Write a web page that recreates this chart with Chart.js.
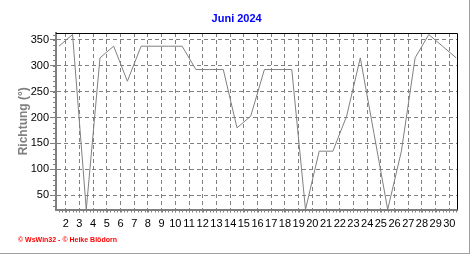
<!DOCTYPE html>
<html>
<head>
<meta charset="utf-8">
<title>Juni 2024</title>
<script src="https://cdn.jsdelivr.net/npm/chart.js@4.4.0/dist/chart.umd.min.js"></script>
<style>
  body { margin: 0; background: #fff; }
  #wrap { position: relative; width: 472px; height: 255px; overflow: hidden; }
  #footer { position: absolute; left: 18px; top: 236px; font: bold 7px Arial, "Liberation Sans", sans-serif; color: #ff0000; white-space: nowrap; }
  .edgeV { position: absolute; left: 469px; top: 0; width: 1px; height: 254px; background: #a0a0a0; }
  .edgeH { position: absolute; left: 0; top: 253px; width: 470px; height: 1px; background: #a0a0a0; }
</style>
</head>
<body>
<div id="wrap">
  <canvas id="chart" width="472" height="255"></canvas>
  <div id="footer">© WsWin32 - © Heike Blödorn</div>
  <div class="edgeV"></div>
  <div class="edgeH"></div>
</div>
<script>
// Windrichtung, Tageswerte Juni 2024
const days = [1, 2, 3, 4, 5, 6, 7, 8, 9, 10, 11, 12, 13, 14, 15,
              16, 17, 18, 19, 20, 21, 22, 23, 24, 25, 26, 27, 28, 29, 30];
const richtung = [337.5, 360, 22.5, 315, 337.5, 270, 337.5, 337.5, 337.5, 337.5,
                  292.5, 292.5, 292.5, 180, 202.5, 292.5, 292.5, 292.5, 22.5, 135,
                  135, 202.5, 315, 169, 22.5, 135, 315, 360, 337.5, 315];
const xTicks = [2, 3, 4, 5, 6, 7, 8, 9, 10, 11, 12, 13, 14, 15, 16,
                17, 18, 19, 20, 21, 22, 23, 24, 25, 26, 27, 28, 29, 30];
const yTicks = [50, 100, 150, 200, 250, 300, 350];

const GRAY = '#808080';

// small ticks along the axes + black frame top/right
const minorTicks = {
  id: 'minorTicks',
  afterDraw(chart) {
    const { ctx, chartArea: a, scales: { x, y } } = chart;
    ctx.save();
    ctx.strokeStyle = GRAY;
    ctx.lineWidth = 1;
    ctx.beginPath();
    for (let v = 30; v < y.max; v += 10) {
      const py = Math.round(y.getPixelForValue(v)) + 0.5;
      ctx.moveTo(a.left - 3, py);
      ctx.lineTo(a.left, py);
    }
    for (let v = 1.5; v <= x.max; v += 0.25) {
      const px = Math.round(x.getPixelForValue(v)) + 0.5;
      ctx.moveTo(px, a.bottom);
      ctx.lineTo(px, a.bottom + 3);
    }
    ctx.stroke();
    ctx.strokeStyle = '#000';
    ctx.beginPath();
    ctx.moveTo(a.left, Math.round(a.top) + 0.5);
    ctx.lineTo(Math.round(a.right) + 0.5, Math.round(a.top) + 0.5);
    ctx.lineTo(Math.round(a.right) + 0.5, a.bottom);
    ctx.stroke();
    ctx.restore();
  }
};

new Chart(document.getElementById('chart'), {
  type: 'line',
  data: {
    datasets: [{
      label: 'Richtung',
      data: days.map((d, i) => ({ x: d + 0.5, y: richtung[i] })),
      borderColor: GRAY,
      borderWidth: 1,
      pointRadius: 0,
      tension: 0,
      fill: false
    }]
  },
  options: {
    responsive: false,
    animation: false,
    devicePixelRatio: 1,
    layout: { padding: { left: 16, right: 14.7, top: 0, bottom: 0 } },
    plugins: {
      legend: { display: false },
      tooltip: { enabled: false },
      title: {
        display: true,
        text: 'Juni 2024',
        color: '#0000ff',
        font: { family: 'Arial', size: 11, weight: 'bold' },
        padding: { top: 12, bottom: 7.8 }
      }
    },
    scales: {
      x: {
        type: 'linear',
        min: 1.29,
        max: 30.58,
        afterBuildTicks: s => { s.ticks = xTicks.map(v => ({ value: v })); },
        afterFit: s => { s.height = 45.5; },
        ticks: {
          color: '#000',
          font: { family: 'Arial', size: 11 },
          padding: 5,
          maxRotation: 0,
          autoSkip: false,
          callback: v => String(v)
        },
        grid: { color: GRAY, lineWidth: 1, tickColor: GRAY, tickLength: 3, tickBorderDash: [] },
        border: { color: GRAY, width: 2, dash: [4, 3] }
      },
      y: {
        min: 22.5,
        max: 363,
        afterBuildTicks: s => { s.ticks = yTicks.map(v => ({ value: v })); },
        afterFit: s => { s.width = 40; },
        ticks: {
          color: '#000',
          font: { family: 'Arial', size: 11 },
          padding: 1,
          callback: v => String(v)
        },
        grid: { color: GRAY, lineWidth: 1, tickColor: GRAY, tickLength: 6, tickBorderDash: [] },
        border: { color: GRAY, width: 2, dash: [4, 3] },
        title: {
          display: true,
          text: 'Richtung (°)',
          color: GRAY,
          font: { family: 'Arial', size: 12, weight: 'bold' },
          padding: 0
        }
      }
    }
  },
  plugins: [minorTicks]
});
</script>
</body>
</html>
